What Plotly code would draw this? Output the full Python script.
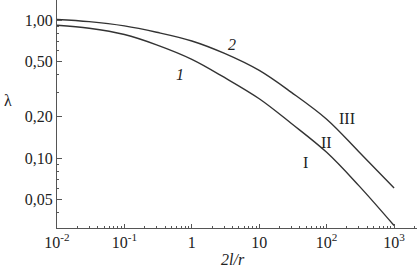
import math
import plotly.graph_objects as go

# data
x_vals = [0.01, 0.03, 0.1, 0.3, 1, 3, 10, 30, 100, 300, 1000]
curve1 = [0.916, 0.871, 0.785, 0.661, 0.519, 0.385, 0.269, 0.178, 0.110, 0.0631, 0.0324]
curve2 = [1.009, 0.973, 0.906, 0.815, 0.705, 0.575, 0.431, 0.299, 0.191, 0.111, 0.0607]

y_tickvals = [1.0, 0.5, 0.2, 0.1, 0.05]
y_ticktext = ["1,00", "0,50", "0,20", "0,10", "0,05"]
x_tickvals = [0.01, 0.1, 1, 10, 100, 1000]
x_ticktext = ["10<sup>-2</sup>", "10<sup>-1</sup>", "1", "10", "10<sup>2</sup>", "10<sup>3</sup>"]

# curve labels: text, x, y (data values)
label_text = ["1", "2", "III", "II", "I"]
label_x = [0.668, 3.95, 201, 101, 48]
label_y = [0.40, 0.67, 0.195, 0.13, 0.0935]
label_italic = [True, True, False, False, False]

x_minor = [m * 10 ** e for e in range(-2, 4) for m in range(2, 10)]
y_minor = [m * 10 ** e for e in (-2, -1) for m in range(2, 10)
           if round(m * 10 ** e, 4) not in (0.05, 0.2, 0.5, 0.02)]

font_family = "Liberation Serif, Times New Roman, serif"
fs = 16
txt_col = "#222222"
line_col = "#333333"
axis_col = "#555555"

fig = go.Figure()
for ys in (curve1, curve2):
    fig.add_trace(go.Scatter(x=x_vals, y=ys, mode="lines", line_shape="spline",
                             line=dict(color=line_col, width=1.4), showlegend=False,
                             hoverinfo="skip"))

for t, lx, ly, it in zip(label_text, label_x, label_y, label_italic):
    fig.add_annotation(x=math.log10(lx), y=math.log10(ly), xref="x", yref="y",
                       xanchor="center", yanchor="middle",
                       showarrow=False, text=f"<i>{t}</i>" if it else t,
                       font=dict(family=font_family, size=fs, color=txt_col))

fig.add_annotation(x=-0.136, y=0.56, xref="paper", yref="paper", showarrow=False,
                   xanchor="center", yanchor="middle",
                   text="λ", font=dict(family=font_family, size=fs, color=txt_col))
fig.add_annotation(x=0.489, y=-0.14, xref="paper", yref="paper", showarrow=False,
                   xanchor="center", yanchor="middle",
                   text="<i>2l/r</i>", font=dict(family=font_family, size=fs, color=txt_col))

fig.update_xaxes(type="log", range=[-2, 3.34], showgrid=False, zeroline=False,
                 showline=True, linecolor=axis_col, linewidth=1,
                 tickmode="array", tickvals=x_tickvals, ticktext=x_ticktext,
                 ticks="inside", ticklen=4, tickcolor=axis_col,
                 minor=dict(tickmode="array", tickvals=x_minor, ticks="inside",
                            ticklen=2, tickcolor=axis_col, showgrid=False),
                 tickfont=dict(family=font_family, size=fs, color=txt_col))
fig.update_yaxes(type="log", range=[-1.507, 0.145], showgrid=False, zeroline=False,
                 showline=True, linecolor=axis_col, linewidth=1,
                 tickmode="array", tickvals=y_tickvals, ticktext=y_ticktext,
                 ticks="inside", ticklen=5, tickcolor=axis_col,
                 minor=dict(tickmode="array", tickvals=y_minor, ticks="inside",
                            ticklen=2, tickcolor=axis_col, showgrid=False),
                 tickfont=dict(family=font_family, size=fs, color=txt_col))

fig.update_layout(width=417, height=267, margin=dict(l=57, r=0, t=0, b=39),
                  plot_bgcolor="white", paper_bgcolor="white",
                  font=dict(family=font_family, color=txt_col))
fig.write_html("out.html", config={"displayModeBar": False},
               post_script="document.body.style.margin='0';")
